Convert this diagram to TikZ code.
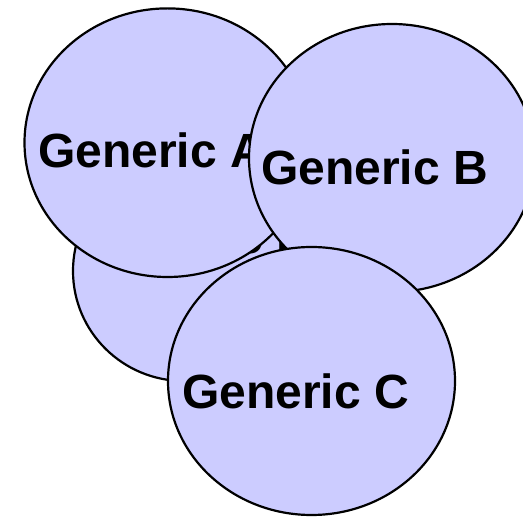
\documentclass[tikz,border=0pt]{standalone}
\usepackage{fontspec}
\setmainfont{Liberation Sans}
\usetikzlibrary{shapes.geometric}
\tikzset{
  blob/.style={ellipse, draw=black, fill=lavfill, line width=2.2pt, inner sep=0pt},
  lbl/.style={anchor=base west, inner sep=0pt, font=\fontsize{48}{48}\selectfont\bfseries, text=black}
}
\definecolor{lavfill}{HTML}{CCCCFF}
\begin{document}
\begin{tikzpicture}[x=1pt,y=-1pt]
\useasboundingbox (0,0) rectangle (523,518);
\clip (0,0) rectangle (523,518);
% hidden circle behind
\node[blob, minimum width=222pt, minimum height=220pt] (D) at (184,271) {};
\node[lbl] (tD) at (84,254) {Generic D};
% circle A
\node[blob, minimum width=286pt, minimum height=268.6pt] (A) at (167.5,142.7) {};
\node[lbl] (tA) at (38,168) {Generic A};
% circle B
\node[blob, minimum width=286pt, minimum height=268pt] (B) at (392,158) {};
\node[lbl] (tB) at (261,185) {Generic B};
% circle C
\node[blob, minimum width=287pt, minimum height=268pt] (C) at (311.5,381) {};
\node[lbl] (tC) at (182,409) {Generic C};
\end{tikzpicture}
\end{document}
